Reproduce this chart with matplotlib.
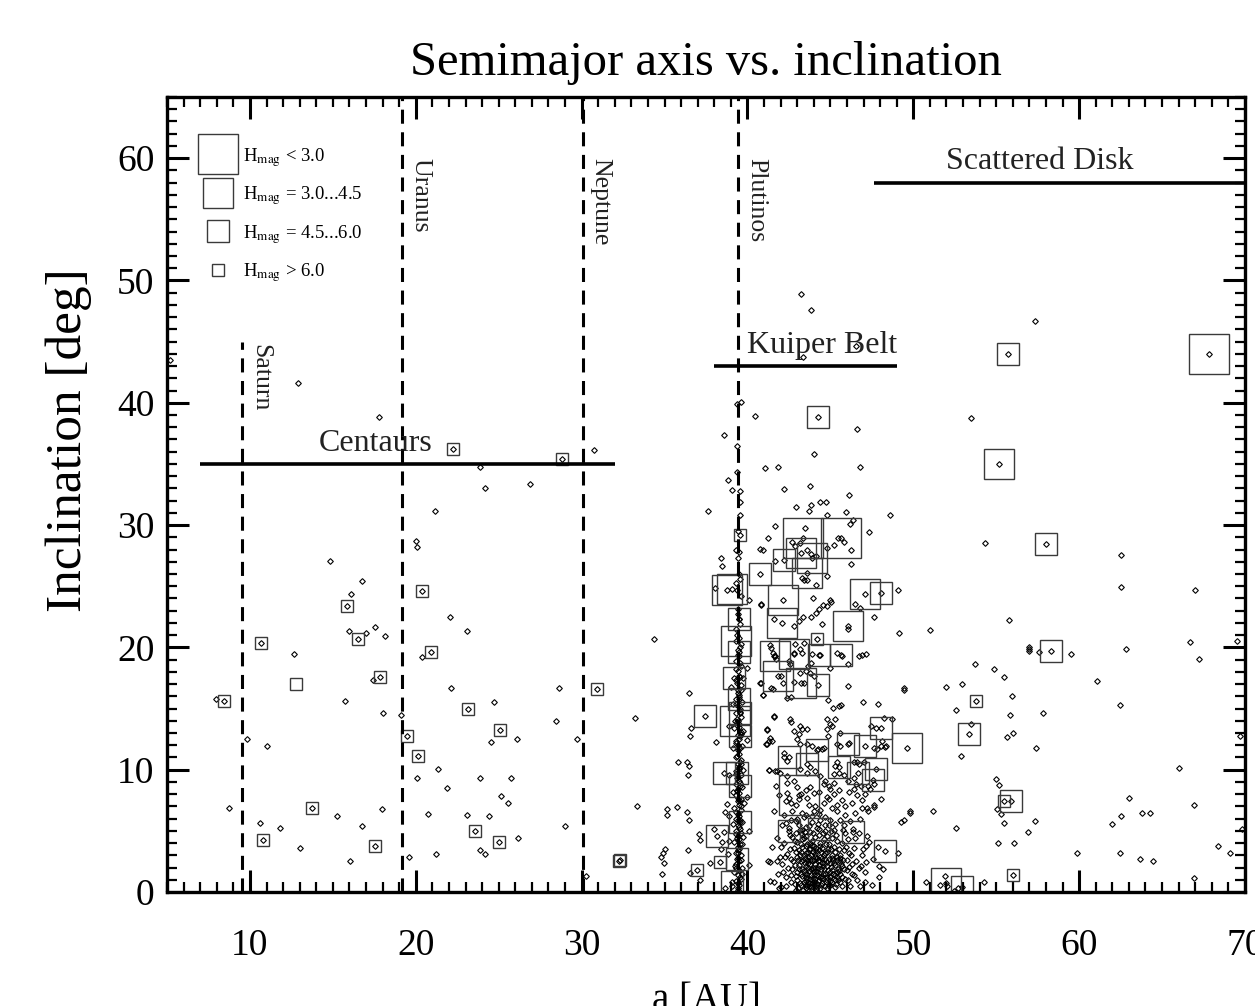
import matplotlib
matplotlib.use("Agg")
import matplotlib.pyplot as plt
from matplotlib.lines import Line2D
from matplotlib.ticker import MultipleLocator

plt.rcParams["font.family"] = "Liberation Serif"
plt.rcParams["mathtext.fontset"] = "stix"

# ---- objects (a [AU], i [deg]) ----
centaurs = [(5.2, 43.5), (7.93, 15.76), (8.73, 6.86), (9.8, 12.47), (10.58, 5.66), (11.0, 11.94),
            (11.79, 5.25), (12.65, 19.43), (12.92, 41.6), (13.0, 3.57), (14.8, 27.05), (15.23, 6.18),
            (15.75, 15.65), (15.97, 21.36), (16.01, 2.56), (16.11, 24.35), (16.75, 25.4), (16.76, 5.36),
            (16.99, 21.14), (17.4, 17.36), (17.52, 21.63), (17.78, 38.8), (17.94, 6.75), (18.02, 14.67),
            (18.14, 20.95), (19.09, 14.47), (19.61, 2.86), (20.03, 28.7), (20.09, 28.24), (20.05, 9.28),
            (20.35, 19.24), (20.73, 6.37), (21.13, 31.13), (21.21, 3.08), (21.33, 10.04), (21.88, 8.54),
            (22.08, 22.45), (22.14, 16.65), (23.06, 21.36), (23.06, 6.26), (23.85, 34.72), (23.89, 9.36),
            (23.89, 3.45), (24.15, 3.08), (24.17, 33.03), (24.43, 6.18), (24.53, 12.27), (24.69, 15.57),
            (25.13, 7.86), (25.57, 7.27), (25.77, 9.36), (26.12, 12.55), (26.15, 4.38), (26.88, 33.33),
            (28.43, 13.96), (28.65, 16.65), (28.99, 5.36), (29.73, 12.55), (30.28, 1.28), (30.73, 36.13),
            (33.19, 14.26), (33.33, 7.0), (34.39, 20.65)]

plutinos = [(39.4, 0.3), (39.5, 0.6), (39.3, 0.9), (39.6, 1.1), (39.4, 1.4), (39.2, 1.6), (39.5, 1.8),
            (39.7, 2.0), (39.3, 2.3), (39.5, 2.5), (39.4, 2.8), (39.6, 3.0), (39.3, 3.2), (39.5, 3.5),
            (39.4, 3.7), (39.7, 3.9), (39.2, 4.1), (39.5, 4.3), (39.4, 4.6), (39.6, 4.8), (39.3, 5.0),
            (39.5, 5.3), (39.4, 5.5), (39.7, 5.7), (39.3, 6.0), (39.5, 6.2), (39.4, 6.4), (39.6, 6.7),
            (39.2, 6.9), (39.5, 7.1), (39.4, 7.4), (39.6, 7.6), (39.3, 7.9), (39.5, 8.1), (39.4, 8.4),
            (39.7, 8.6), (39.3, 8.8), (39.5, 9.1), (39.4, 9.4), (39.6, 9.6), (39.3, 9.9), (39.5, 10.2),
            (39.4, 10.5), (39.6, 10.8), (39.3, 11.0), (39.5, 11.3), (39.4, 11.6), (39.7, 11.9), (39.3, 12.2),
            (39.5, 12.5), (39.4, 12.8), (39.6, 13.1), (39.2, 13.4), (39.5, 13.7), (39.4, 14.0), (39.6, 14.3),
            (39.3, 14.6), (39.5, 14.9), (39.4, 15.2), (39.7, 15.5), (39.3, 15.8), (39.5, 16.1), (39.4, 16.5),
            (39.6, 16.9), (39.3, 17.3), (39.5, 17.7), (39.4, 18.1), (39.6, 18.5), (39.3, 18.9), (39.5, 19.3),
            (39.4, 19.8), (39.6, 20.3), (39.5, 20.8), (39.3, 21.5), (39.5, 22.3), (39.4, 23.1), (39.6, 24.2),
            (39.3, 25.3), (39.5, 26.0), (39.45, 3.4), (39.35, 4.4), (39.55, 5.9), (39.45, 7.7), (39.35, 9.3),
            (39.55, 10.6), (39.45, 12.0), (39.35, 13.9), (39.55, 15.0), (39.45, 16.3), (39.25, 2.1),
            (39.65, 1.5), (39.45, 0.7), (39.75, 4.5), (39.15, 5.6), (39.75, 10.0), (39.15, 11.8),
            (39.75, 13.2), (39.15, 15.4), (39.75, 17.5), (39.8, 7.3), (39.1, 8.2), (38.9, 6.2), (40.0, 7.8),
            (38.9, 9.6), (40.0, 12.4), (39.0, 16.8), (40.0, 18.3), (38.8, 3.1), (40.1, 2.2), (40.1, 5.0),
            (38.9, 13.6), (39.35, 39.92), (39.59, 40.1), (39.35, 34.34), (39.55, 32.76), (39.05, 32.84),
            (39.55, 31.92), (39.53, 30.86), (39.28, 27.94), (39.5, 27.81),
            (39.42, 0.15), (39.52, 1.25), (39.32, 1.95), (39.62, 2.65), (39.42, 3.15), (39.52, 3.95),
            (39.28, 4.75), (39.58, 5.15), (39.42, 5.85), (39.32, 6.55), (39.62, 7.05), (39.48, 7.55),
            (39.38, 8.25), (39.58, 8.95), (39.28, 9.65), (39.48, 10.05), (39.62, 10.45), (39.38, 11.15),
            (39.52, 11.75), (39.28, 12.35), (39.62, 12.95), (39.48, 13.45), (39.38, 14.15), (39.58, 14.75),
            (39.28, 15.35), (39.48, 15.95), (39.62, 16.55), (39.38, 17.05), (39.52, 17.55), (39.28, 18.25),
            (39.58, 18.75), (39.42, 19.35), (39.52, 20.05), (39.38, 21.05), (39.58, 21.95), (39.45, 22.75),
            (39.35, 24.7), (39.55, 25.6), (39.42, 27.3), (39.45, 29.5), (39.38, 36.5)]

kuiper = [(34.88, 3.16), (35.02, 3.51), (34.96, 2.37), (34.86, 1.47), (34.8, 2.83), (36.47, 16.24),
          (36.6, 13.44), (36.56, 12.76), (35.8, 10.59), (36.33, 10.59), (36.49, 10.31), (36.4, 9.55),
          (35.14, 6.78), (35.17, 6.29), (35.74, 6.96), (36.34, 6.56), (36.5, 5.88), (37.09, 4.76),
          (37.13, 4.24), (36.43, 3.45), (36.52, 1.53), (37.76, 2.37), (37.12, 1.0), (38.13, 12.27),
          (38.76, 7.18), (38.62, 6.56), (38.65, 0.3), (39.05, 0.51), (38.38, 3.51), (38.48, 4.06),
          (37.98, 5.14), (38.58, 4.87), (38.88, 4.14), (38.06, 24.82), (38.38, 27.27), (38.48, 26.64),
          (37.6, 31.13), (38.57, 37.33), (38.83, 33.66), (40.48, 38.94),
          (43.21, 48.92), (43.81, 47.62), (43.35, 43.73), (46.55, 44.68), (46.62, 37.82), (44.03, 35.84),
          (41.08, 34.64), (41.85, 34.75), (46.8, 34.72), (42.2, 32.95), (43.8, 33.22), (42.93, 31.46),
          (43.84, 31.62), (44.36, 31.92), (44.74, 31.92), (43.72, 31.13), (46.15, 32.43), (44.8, 30.86),
          (45.95, 31.05), (48.57, 30.86), (47.31, 29.44), (41.64, 29.96), (43.49, 29.77), (41.22, 28.95),
          (40.73, 28.08), (40.91, 27.94), (46.36, 30.45), (46.16, 30.12), (45.46, 28.95), (45.8, 28.63),
          (45.22, 28.35), (46.25, 27.94), (46.25, 26.85), (41.68, 27.04), (43.97, 24.06), (44.81, 25.82),
          (43.39, 25.55), (43.6, 25.49), (44.16, 25.14), (44.95, 23.9), (45.05, 23.7), (44.8, 23.4),
          (44.58, 23.5), (44.34, 23.16), (44.14, 22.83), (43.84, 22.5), (43.36, 22.5), (43.1, 22.15),
          (42.8, 21.74), (40.84, 23.45), (40.07, 23.86), (46.5, 23.57), (46.8, 23.24), (47.6, 22.47),
          (44.5, 21.95), (46.04, 21.47), (49.12, 21.2), (49.05, 24.73), (42.68, 28.6), (42.88, 28.33),
          (43.19, 28.55), (43.57, 28.0), (43.85, 27.67), (44.11, 27.51), (43.29, 25.69), (44.8, 28.14),
          (40.84, 23.51), (41.59, 22.29), (41.44, 19.98), (41.59, 19.29), (41.74, 19.02),
          (46.74, 19.29), (46.88, 19.35), (47.14, 19.49), (41.38, 20.16), (41.54, 19.51), (41.68, 19.29),
          (42.89, 20.24), (43.15, 19.89), (43.29, 19.57), (42.79, 19.51), (43.39, 20.38), (42.49, 18.88),
          (42.59, 18.61), (43.89, 19.43), (44.39, 19.35), (45.4, 19.57), (45.7, 19.29), (46.04, 18.67),
          (44.99, 18.34), (43.84, 18.75), (43.64, 18.47), (43.54, 18.07), (42.04, 17.66), (42.14, 17.12),
          (41.54, 16.63), (40.84, 17.12), (42.79, 17.16), (43.19, 17.93), (43.39, 17.12), (43.79, 17.93),
          (43.99, 17.66), (40.94, 16.08), (42.39, 15.89), (42.63, 15.97), (46.04, 16.84), (49.46, 16.65),
          (44.84, 15.67), (45.16, 15.02), (45.5, 15.21), (45.64, 15.27), (46.99, 15.57), (47.86, 15.35),
          (41.59, 14.34), (42.56, 14.12), (42.6, 13.9), (41.19, 13.31), (41.38, 12.63), (41.29, 12.35),
          (41.15, 12.08), (42.79, 13.17), (43.19, 13.58), (43.29, 13.31), (43.09, 12.9), (42.99, 12.49),
          (43.19, 12.08), (43.59, 13.31), (44.79, 14.12), (45.29, 14.18), (44.99, 13.71), (45.09, 13.58),
          (45.6, 13.04), (44.79, 13.31), (44.84, 12.76), (48.23, 14.26), (48.73, 14.12), (47.43, 13.58),
          (47.73, 13.44), (47.83, 11.67), (47.63, 11.81), (48.03, 11.94), (48.33, 11.94), (48.1, 12.35),
          (42.19, 11.4), (42.19, 11.0), (42.39, 10.72), (43.59, 12.08), (43.89, 11.94), (44.23, 11.67),
          (44.49, 11.73), (44.59, 11.81), (45.4, 12.08), (45.6, 11.94), (46.1, 12.16), (46.4, 10.59),
          (46.6, 10.64), (46.7, 10.45), (47.0, 10.59), (45.4, 10.59), (45.3, 10.31), (45.5, 9.77),
          (45.24, 9.63), (41.29, 9.96), (41.69, 9.9), (41.99, 9.77), (42.39, 9.49), (43.19, 10.04),
          (43.59, 9.77), (43.79, 10.18), (44.09, 9.9), (44.39, 9.49), (46.04, 9.09), (46.54, 8.82),
          (46.84, 8.68), (47.24, 8.68), (47.63, 8.82), (44.69, 9.09), (44.89, 8.68), (42.4, 8.9),
          (42.8, 9.1), (43.0, 8.6), (43.2, 8.0), (43.6, 7.7), (44.0, 8.1), (44.1, 7.0), (43.7, 7.1),
          (42.9, 7.1), (42.5, 7.7), (42.3, 7.4), (42.7, 6.6), (43.3, 6.5), (44.0, 6.6), (44.4, 6.7),
          (44.6, 7.3), (44.8, 7.8), (45.0, 8.4), (45.2, 8.0), (44.9, 7.6), (45.4, 7.1), (45.1, 6.9),
          (45.4, 6.6), (46.1, 8.2), (46.4, 8.4), (46.6, 7.9), (46.9, 7.5), (47.2, 6.9), (47.6, 7.1),
          (47.4, 8.4), (49.46, 5.9), (49.81, 6.64), (48.03, 7.59), (47.63, 6.91), (47.24, 6.64),
          (44.7, 6.1), (45.0, 5.9), (45.6, 5.9), (45.3, 5.6), (44.9, 5.5), (45.8, 5.5), (46.2, 5.8),
          (46.8, 6.0), (40.73, 17.06), (41.44, 16.65), (40.95, 16.08), (41.59, 14.37), (41.19, 13.25),
          (41.48, 12.35), (41.12, 12.08), (41.29, 9.98), (41.76, 9.9), (41.22, 2.56), (41.38, 2.42),
          (41.78, 2.56), (41.38, 0.92), (41.59, 0.79), (47.35, 4.06), (47.15, 3.78), (46.95, 3.51),
          (47.55, 2.69), (47.15, 2.42), (46.85, 2.15), (47.5, 0.6), (47.1, 0.79), (46.8, 0.51),
          (47.85, 3.65), (48.2, 1.88), (47.95, 1.2), (47.95, 2.15), (48.3, 11.84),
          (42.2, 6.3), (42.6, 5.9), (43.0, 6.0), (43.5, 6.3), (43.9, 6.2), (44.3, 6.4), (42.4, 8.1),
          (42.6, 7.3), (43.1, 7.6), (43.5, 8.3), (43.8, 8.6), (44.3, 8.2), (44.6, 8.8), (45.2, 8.9),
          (45.5, 8.3), (45.7, 7.5), (45.9, 7.0), (46.3, 7.3), (46.5, 6.5), (46.9, 6.9), (47.1, 8.0),
          (45.9, 6.3), (46.4, 9.3), (45.8, 9.6), (41.9, 7.9), (41.6, 6.6), (41.7, 8.7), (42.1, 5.5),
          (41.8, 4.4), (41.5, 3.7)]

# dense classical-belt core
core = [(42.0, 0.4), (42.3, 1.2), (42.1, 2.3), (42.4, 3.1), (42.2, 4.0), (42.5, 5.2), (42.6, 0.8),
        (42.7, 1.9), (42.6, 2.7), (42.8, 3.6), (42.7, 4.5), (42.9, 5.8), (42.9, 0.2), (43.0, 1.0),
        (43.0, 1.6), (43.1, 2.2), (43.0, 2.9), (43.1, 3.4), (43.0, 4.1), (43.2, 4.8), (43.1, 5.5),
        (43.2, 0.6), (43.3, 1.3), (43.3, 1.9), (43.2, 2.5), (43.4, 3.0), (43.3, 3.7), (43.4, 4.4),
        (43.3, 5.1), (43.4, 6.1), (43.5, 0.3), (43.5, 0.9), (43.6, 1.5), (43.5, 2.1), (43.6, 2.6),
        (43.5, 3.2), (43.6, 3.9), (43.5, 4.6), (43.7, 5.4), (43.7, 0.5), (43.8, 1.1), (43.7, 1.7),
        (43.8, 2.3), (43.7, 2.9), (43.8, 3.5), (43.9, 4.2), (43.8, 4.9), (43.9, 5.7), (43.9, 0.2),
        (44.0, 0.8), (44.0, 1.4), (44.1, 2.0), (44.0, 2.6), (44.1, 3.1), (44.0, 3.8), (44.1, 4.5),
        (44.2, 5.2), (44.2, 0.4), (44.3, 1.0), (44.2, 1.6), (44.3, 2.2), (44.2, 2.8), (44.3, 3.4),
        (44.4, 4.0), (44.3, 4.7), (44.4, 5.9), (44.5, 0.7), (44.5, 1.3), (44.6, 1.9), (44.5, 2.4),
        (44.6, 3.0), (44.5, 3.6), (44.6, 4.3), (44.7, 5.0), (44.8, 0.3), (44.8, 1.0), (44.7, 1.5),
        (44.8, 2.1), (44.9, 2.7), (44.8, 3.3), (44.9, 3.9), (44.8, 4.6), (45.0, 0.6), (45.0, 1.2),
        (45.1, 1.8), (45.0, 2.4), (45.1, 3.0), (45.2, 3.7), (45.1, 4.4), (45.2, 5.1), (45.3, 0.4),
        (45.3, 1.0), (45.4, 1.6), (45.3, 2.2), (45.4, 2.9), (45.5, 3.5), (45.4, 4.2), (45.6, 0.8),
        (45.6, 1.5), (45.7, 2.1), (45.6, 2.8), (45.8, 3.4), (45.7, 4.0), (45.9, 4.8), (45.9, 1.1),
        (46.0, 1.8), (46.0, 2.6), (46.1, 3.2), (46.2, 0.5), (46.3, 1.5), (46.3, 2.3), (46.4, 3.6),
        (46.5, 4.4), (46.6, 1.0), (46.7, 2.0), (46.9, 3.0), (47.1, 1.6), (47.2, 4.6), (43.15, 0.7),
        (43.25, 1.5), (43.45, 2.4), (43.35, 0.2), (43.55, 1.2), (43.65, 2.0), (43.75, 2.6), (43.85, 1.4),
        (43.95, 2.0), (43.65, 3.3), (43.85, 3.0), (44.05, 1.1), (44.15, 1.7), (44.25, 2.5), (44.35, 1.2),
        (44.45, 1.9), (44.05, 2.3), (44.15, 3.6), (44.35, 2.9), (44.55, 2.1), (44.65, 2.7), (44.45, 3.3),
        (44.25, 0.9), (44.05, 0.5), (43.95, 3.3), (43.75, 4.0), (44.55, 4.8), (44.75, 3.9), (43.45, 4.9),
        (43.25, 3.9), (43.05, 2.6), (42.85, 2.2), (42.95, 1.3), (43.15, 3.0), (44.85, 1.8), (44.95, 1.3),
        (45.15, 2.6), (45.25, 1.4), (45.45, 1.9), (45.55, 2.5), (45.05, 3.5), (44.65, 0.5), (44.95, 0.9),
        (43.55, 0.6), (43.85, 0.4), (44.35, 0.3),
        (43.05, 0.35), (43.12, 1.85), (43.22, 3.25), (43.28, 4.35), (43.38, 0.85), (43.42, 1.75),
        (43.48, 2.75), (43.52, 3.75), (43.58, 0.45), (43.62, 1.05), (43.68, 2.35), (43.72, 3.55),
        (43.78, 0.75), (43.82, 1.85), (43.88, 2.65), (43.92, 3.85), (43.98, 1.15), (44.02, 1.75),
        (44.08, 2.85), (44.12, 3.35), (44.18, 0.65), (44.22, 1.35), (44.28, 1.95), (44.32, 2.65),
        (44.38, 3.75), (44.42, 0.55), (44.48, 1.15), (44.52, 2.75), (44.58, 1.45), (44.62, 2.35),
        (44.68, 3.15), (44.72, 0.85), (44.78, 1.25), (44.82, 2.45), (44.88, 3.55), (44.92, 0.45),
        (44.98, 1.65), (45.02, 2.05), (45.08, 2.75), (45.12, 0.85), (45.18, 1.45), (45.22, 2.35),
        (45.28, 3.25), (45.32, 0.65), (45.38, 1.25), (45.42, 2.65), (45.48, 0.95), (45.52, 1.75),
        (45.58, 3.05), (45.62, 2.25), (45.68, 1.25), (45.72, 0.45), (45.78, 2.65), (45.85, 1.85),
        (45.92, 3.65), (46.05, 0.95), (46.15, 2.05), (46.25, 3.05), (46.45, 1.35), (46.55, 2.55),
        (42.15, 1.65), (42.25, 2.85), (42.35, 0.45), (42.45, 1.95), (42.55, 3.55), (42.65, 1.35),
        (42.75, 2.55), (42.85, 0.65), (42.95, 3.25), (42.85, 4.15), (42.55, 4.65), (42.35, 5.65),
        (42.95, 4.85), (43.15, 5.05), (43.55, 5.35), (43.95, 4.85), (44.25, 5.55), (44.65, 5.45),
        (45.05, 4.95), (45.35, 4.65), (45.75, 5.05), (46.05, 4.35), (46.35, 5.15), (46.75, 4.85),
        (43.35, 2.65), (43.45, 1.45), (43.65, 0.85), (43.95, 0.75), (44.15, 0.25), (41.85, 1.45),
        (41.95, 2.85), (42.05, 3.65), (41.9, 0.3)]

scattered = [(49.43, 16.48), (49.78, 6.46), (49.28, 5.71), (49.06, 3.22), (50.79, 0.84), (51.03, 21.4),
             (51.16, 6.65), (51.63, 0.55), (51.89, 1.31), (51.96, 16.79), (52.03, 0.46), (52.47, 0.1),
             (52.56, 14.91), (52.56, 5.24), (52.67, 0.31), (52.87, 11.08), (52.91, 17.01), (53.48, 38.78),
             (53.5, 13.71), (53.71, 18.61), (54.25, 0.84), (54.34, 28.53), (54.88, 18.2), (54.98, 9.26),
             (55.03, 6.81), (55.09, 4.02), (55.18, 8.75), (55.27, 6.4), (55.44, 17.6), (55.47, 5.65),
             (55.63, 12.68), (55.76, 22.22), (55.84, 14.47), (55.96, 16.01), (56.03, 13.0), (56.1, 4.02),
             (56.94, 4.92), (56.97, 20.0), (56.97, 19.7), (57.0, 19.85), (57.34, 46.71), (57.36, 5.84),
             (57.4, 11.77), (57.57, 19.62), (57.85, 14.6), (59.49, 19.5), (59.85, 3.22), (61.06, 17.29),
             (62.0, 5.55), (62.44, 3.22), (62.46, 15.28), (62.5, 6.24), (62.52, 27.53), (62.52, 24.92),
             (62.85, 19.9), (63.0, 7.66), (63.69, 2.72), (63.77, 6.46), (64.29, 6.46), (64.45, 2.5),
             (66.0, 10.16), (66.7, 20.43), (66.93, 7.15), (66.93, 1.16), (66.96, 24.73), (67.2, 19.09),
             (68.37, 3.76), (69.11, 3.22), (69.52, 20.53), (69.68, 12.76), (69.82, 5.14)]

# objects drawn with a size box, by absolute magnitude class
hmag_lt3 = [(45.67, 28.95), (43.33, 28.95), (43.09, 7.94), (67.83, 44.02)]
hmag_3_45 = [(43.2, 27.73), (43.9, 27.32), (43.6, 26.1), (38.79, 24.73), (42.16, 23.86), (42.1, 22.0),
             (47.06, 24.35), (46.04, 21.74), (41.67, 19.27), (42.79, 19.43), (41.83, 17.66), (43.24, 17.12),
             (49.63, 11.76), (55.18, 34.97), (51.96, 0.73), (39.08, 24.79), (39.3, 20.5), (39.27, 13.98)]
hmag_45_6 = [(44.23, 38.83), (42.2, 27.18), (40.76, 26.04), (48.03, 24.46), (44.34, 19.37), (45.64, 19.37),
             (44.24, 16.93), (48.03, 13.44), (46.04, 12.08), (47.06, 11.94), (42.53, 11.05), (44.21, 11.62),
             (43.61, 10.45), (45.52, 10.18), (46.66, 9.77), (47.73, 10.04), (47.57, 9.14), (42.49, 5.0),
             (44.3, 5.14), (46.37, 4.87), (48.27, 3.37), (37.41, 14.37), (38.57, 9.77), (38.17, 4.6),
             (39.47, 22.29), (39.5, 19.6), (39.17, 17.53), (39.47, 15.76), (39.57, 14.67), (39.57, 12.76),
             (39.37, 9.77), (39.57, 8.68), (39.57, 5.69), (39.37, 2.69), (39.08, 0.79), (55.72, 44.02),
             (57.98, 28.44), (58.3, 19.71), (53.38, 12.9), (55.87, 7.4), (52.95, 0.37)]
hmag_gt6 = [(15.87, 23.35), (16.53, 20.7), (10.64, 20.33), (17.82, 17.58), (8.43, 15.65), (20.39, 24.65),
            (20.93, 19.65), (23.16, 14.96), (25.05, 13.28), (30.95, 16.57), (19.49, 12.76), (20.11, 11.16),
            (13.72, 6.88), (10.81, 4.27), (17.56, 3.76), (23.59, 4.95), (25.03, 4.11), (32.31, 2.61),
            (32.25, 2.55), (22.24, 36.24), (28.79, 35.43), (36.97, 1.82), (38.32, 2.42), (39.57, 29.22),
            (44.18, 20.65), (53.75, 15.6), (55.47, 7.43), (56.0, 1.35)]
box_only = [(12.75, 17.0)]

# reference planets / resonance
planet_names = ["Saturn", "Uranus", "Neptune", "Plutinos"]
planet_a = [9.54, 19.19, 30.07, 39.45]
planet_top = [45, 65, 65, 65]

# dynamical classes
region_names = ["Centaurs", "Kuiper Belt", "Scattered Disk"]
region_i = [35, 43, 58]
region_a0 = [7, 38, 47.6]
region_a1 = [32, 49, 70]
region_label_a = [17.6, 44.5, 57.65]

hmag_labels = [r"H$_{\rm mag}$ < 3.0", r"H$_{\rm mag}$ = 3.0...4.5",
               r"H$_{\rm mag}$ = 4.5...6.0", r"H$_{\rm mag}$ > 6.0"]
box_sizes = [28.8, 21.6, 15.8, 8.6]


def split(pts):
    return [p[0] for p in pts], [p[1] for p in pts]


fig = plt.figure(figsize=(12.55, 10.06), dpi=100)
ax = fig.add_axes([167 / 1255, 114 / 1006, 1078 / 1255, 795 / 1006])

# every object as a tiny diamond
boxed = hmag_lt3 + hmag_3_45 + hmag_45_6 + hmag_gt6
all_obj = centaurs + plutinos + kuiper + core + scattered + boxed
a, inc = split(all_obj)
ax.plot(a, inc, ls="none", marker="D", ms=2.9, mfc="none", mec="black", mew=0.8)

# size boxes
for grp, sz in zip([hmag_lt3, hmag_3_45, hmag_45_6, hmag_gt6 + box_only], box_sizes):
    a, inc = split(grp)
    ax.plot(a, inc, ls="none", marker="s", ms=sz, mfc="none", mec="#3a3a3a", mew=1.0)

# planets
for name, pa, top in zip(planet_names, planet_a, planet_top):
    ax.vlines(pa, 0, top, colors="black", lw=2.2, linestyles=(0, (4.6, 2.8)))
    ax.text(pa + 0.4, min(top, 60.2) - 0.2, name, rotation=270, ha="left", va="top",
            fontsize=18.5, color="#222222")

# class bars
for name, ri, a0, a1, la in zip(region_names, region_i, region_a0, region_a1, region_label_a):
    ax.hlines(ri, a0, a1, colors="black", lw=2.6)
    ax.text(la, ri + 1.7, name, ha="center", va="center", fontsize=23, color="#222222")

handles = [Line2D([], [], ls="none", marker="s", ms=s, mfc="none", mec="#3a3a3a", mew=1.0)
           for s in box_sizes]
ax.legend(handles, hmag_labels, loc="upper left", bbox_to_anchor=(0.024, 0.948), frameon=False,
          fontsize=13.5, handlelength=1.9, handletextpad=0.4, labelspacing=0.83,
          borderaxespad=0, borderpad=0.4)

ax.set_xlim(5, 70)
ax.set_ylim(0, 65)
ax.xaxis.set_major_locator(MultipleLocator(10))
ax.xaxis.set_minor_locator(MultipleLocator(1))
ax.yaxis.set_major_locator(MultipleLocator(10))
ax.yaxis.set_minor_locator(MultipleLocator(1))
ax.tick_params(which="both", direction="in", top=True, right=True)
ax.tick_params(which="major", length=16, width=2.2, labelsize=27)
ax.tick_params(which="minor", length=7, width=1.6)
ax.tick_params(axis="x", pad=26)
ax.tick_params(axis="y", pad=9)
for s in ax.spines.values():
    s.set_linewidth(2.4)

ax.set_title("Semimajor axis vs. inclination", fontsize=35, pad=16)
ax.set_xlabel("a [AU]", fontsize=28, labelpad=14)
ax.set_ylabel("Inclination [deg]", fontsize=37)
ax.yaxis.set_label_coords(-0.0696, 0.569)

fig.savefig("out.png", dpi=100)
